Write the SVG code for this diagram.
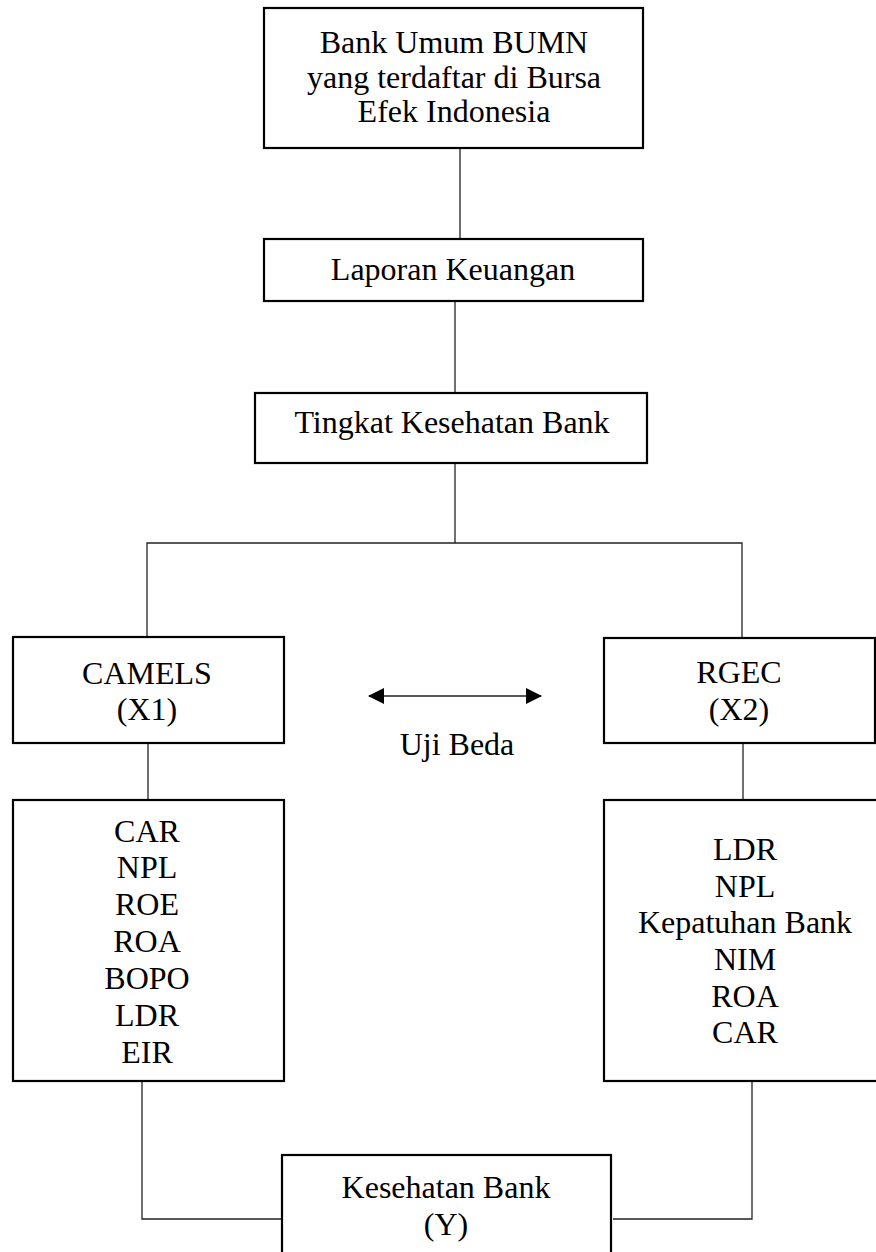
<svg xmlns="http://www.w3.org/2000/svg" width="876" height="1252" viewBox="0 0 876 1252">
<style>
.box{fill:#fff;stroke:#000;stroke-width:2.2}
.con{fill:none;stroke:#222;stroke-width:1.3}
.t{font-family:"Liberation Serif","Times New Roman",serif;font-size:32px;fill:#000;text-anchor:middle}
</style>
<defs>
<marker id="ah" markerUnits="userSpaceOnUse" markerWidth="16" markerHeight="16" viewBox="0 0 16 16" refX="15" refY="8" orient="auto-start-reverse">
<path d="M0,0 L16,8 L0,16 Z" fill="#000"/>
</marker>
</defs>
<rect width="876" height="1252" fill="#fff"/>
<g id="connectors">
<line class="con" x1="460" y1="148" x2="460" y2="239"/>
<line class="con" x1="455" y1="301" x2="455" y2="393"/>
<line class="con" x1="455" y1="463" x2="455" y2="543"/>
<polyline class="con" points="147,637 147,543 742,543 742,638"/>
<line class="con" x1="148" y1="743" x2="148" y2="800"/>
<line class="con" x1="743" y1="743" x2="743" y2="800"/>
<polyline class="con" points="142,1081 142,1219 282,1219"/>
<polyline class="con" points="752,1081 752,1219 613,1219"/>
<line x1="369" y1="696" x2="541" y2="696" stroke="#222" stroke-width="1.5" marker-start="url(#ah)" marker-end="url(#ah)"/>
<text class="t" x="457" y="755">Uji Beda</text>
</g>
<g id="bank-umum">
<rect class="box" x="264" y="8" width="379" height="140"/>
<text class="t" x="454" y="53">Bank Umum BUMN</text>
<text class="t" x="454" y="88">yang terdaftar di Bursa</text>
<text class="t" x="454" y="122">Efek Indonesia</text>
</g>
<g id="laporan">
<rect class="box" x="264" y="239" width="379" height="62"/>
<text class="t" x="453" y="280">Laporan Keuangan</text>
</g>
<g id="tingkat">
<rect class="box" x="255" y="393" width="392" height="70"/>
<text class="t" x="452" y="433">Tingkat Kesehatan Bank</text>
</g>
<g id="camels">
<rect class="box" x="13" y="637" width="271" height="106"/>
<text class="t" x="147" y="684">CAMELS</text>
<text class="t" x="147" y="720">(X1)</text>
</g>
<g id="camels-items">
<rect class="box" x="13" y="800" width="271" height="281"/>
<text class="t" x="147" y="842">CAR</text>
<text class="t" x="147" y="878">NPL</text>
<text class="t" x="147" y="915">ROE</text>
<text class="t" x="147" y="952">ROA</text>
<text class="t" x="147" y="989">BOPO</text>
<text class="t" x="147" y="1026">LDR</text>
<text class="t" x="147" y="1063">EIR</text>
</g>
<g id="rgec">
<rect class="box" x="604" y="638" width="271" height="105"/>
<text class="t" x="739" y="683">RGEC</text>
<text class="t" x="739" y="720">(X2)</text>
</g>
<g id="rgec-items">
<rect class="box" x="604" y="800" width="280" height="281"/>
<text class="t" x="745" y="860">LDR</text>
<text class="t" x="745" y="897">NPL</text>
<text class="t" x="745" y="933">Kepatuhan Bank</text>
<text class="t" x="745" y="970">NIM</text>
<text class="t" x="745" y="1007">ROA</text>
<text class="t" x="745" y="1043">CAR</text>
</g>
<g id="kesehatan">
<rect class="box" x="282" y="1155" width="329" height="110"/>
<text class="t" x="446" y="1198">Kesehatan Bank</text>
<text class="t" x="446" y="1235">(Y)</text>
</g>
</svg>
